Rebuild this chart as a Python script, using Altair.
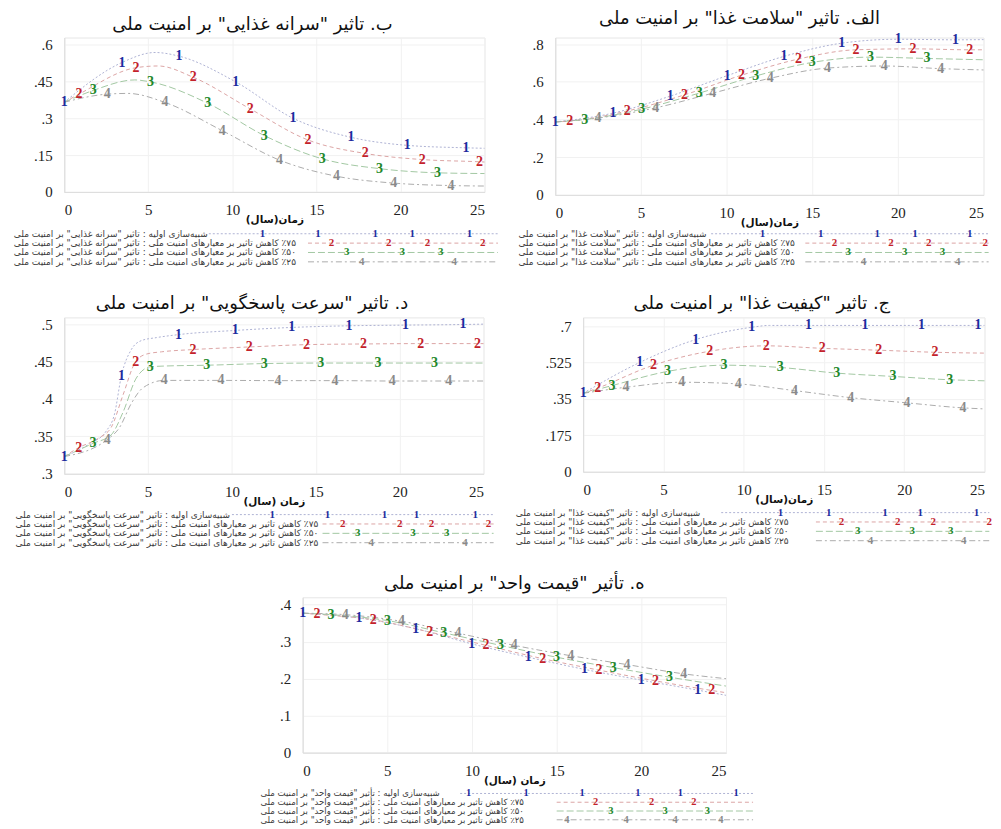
import altair as alt
import pandas as pd

SERIES = [1, 2, 3, 4]
MARK_COLORS = {1: '#1d2b9e', 2: '#c3222b', 3: '#22882a', 4: '#8a8a8a'}
LINE_COLORS = {1: '#aeb2d4', 2: '#dca4a4', 3: '#a2c8a2', 4: '#ababab'}
DASH_RANGE = [[2, 2], [4, 3], [7, 3], [6, 3, 2, 3]]
X_TICKS = [0, 5, 10, 15, 20, 25]
RLM = '\u200f'


def rtl(s):
    return RLM + s + RLM


def legend_texts(kw, verb='تاثیر'):
    return [
        f'شبیه‌سازی اولیه : {verb} "{kw}" بر امنیت ملی',
        f'٪۷۵ کاهش تاثیر بر معیارهای امنیت ملی : {verb} "{kw}" بر امنیت ملی',
        f'٪۵۰ کاهش تاثیر بر معیارهای امنیت ملی : {verb} "{kw}" بر امنیت ملی',
        f'٪۲۵ کاهش تاثیر بر معیارهای امنیت ملی : {verb} "{kw}" بر امنیت ملی',
    ]


# ---------------- panel ب : سرانه غذایی ----------------
B_TITLE = 'ب. تاثیر "سرانه غذایی" بر امنیت ملی'
B_KW = 'سرانه غذایی'
B_YTICKS = [0, 0.15, 0.3, 0.45, 0.6]
B_T = {1: [0, 3.43, 5.4, 6.83, 10.2, 13.6, 17.05, 20.4, 23.9, 25],
       2: [0, 0.88, 4.27, 5.6, 7.67, 11.06, 14.5, 17.9, 21.3, 24.7, 25],
       3: [0, 1.72, 4.2, 5.13, 8.53, 11.9, 15.35, 18.75, 22.2, 25],
       4: [0, 2.56, 3.8, 6.0, 9.4, 12.8, 16.2, 19.6, 23.0, 25]}
B_V = {1: [0.366, 0.528, 0.569, 0.554, 0.449, 0.301, 0.223, 0.19, 0.18, 0.178],
       2: [0.366, 0.399, 0.507, 0.514, 0.468, 0.339, 0.212, 0.157, 0.132, 0.123, 0.122],
       3: [0.366, 0.414, 0.457, 0.449, 0.362, 0.23, 0.135, 0.095, 0.078, 0.075],
       4: [0.366, 0.399, 0.402, 0.365, 0.25, 0.13, 0.064, 0.036, 0.026, 0.024]}
B_M = {1: [0, 3.43, 6.83, 10.2, 13.6, 17.05, 20.4, 23.9],
       2: [0.88, 4.27, 7.67, 11.06, 14.5, 17.9, 21.3, 24.7],
       3: [1.72, 5.13, 8.53, 11.9, 15.35, 18.75, 22.2],
       4: [2.56, 6.0, 9.4, 12.8, 16.2, 19.6, 23.0]}
B_LM = {1: [11.8, 15.1, 18.5, 20.7, 24.1], 2: [15.9, 19.3, 21.6, 24.9],
        3: [16.8, 20.1, 22.4], 4: [17.7, 23.2]}

# ---------------- panel الف : سلامت غذا ----------------
A_TITLE = 'الف. تاثیر "سلامت غذا" بر امنیت ملی'
A_KW = 'سلامت غذا'
A_YTICKS = [0, 0.2, 0.4, 0.6, 0.8]
A_T = {1: [0, 3.37, 6.71, 10.04, 13.35, 16.72, 20.03, 23.36, 25],
       2: [0, 0.85, 4.2, 7.55, 10.87, 14.2, 17.55, 20.88, 24.2, 25],
       3: [0, 1.72, 5.05, 8.4, 11.7, 15.0, 18.4, 21.7, 25],
       4: [0, 2.5, 5.86, 9.2, 12.55, 15.9, 19.2, 22.5, 25]}
A_V = {1: [0.387, 0.434, 0.524, 0.633, 0.735, 0.805, 0.826, 0.823, 0.824],
       2: [0.387, 0.392, 0.445, 0.531, 0.635, 0.721, 0.77, 0.775, 0.77, 0.77],
       3: [0.387, 0.40, 0.455, 0.54, 0.631, 0.703, 0.731, 0.724, 0.717],
       4: [0.387, 0.408, 0.462, 0.54, 0.619, 0.673, 0.684, 0.67, 0.663]}
A_M = {1: [0, 3.37, 6.71, 10.04, 13.35, 16.72, 20.03, 23.36],
       2: [0.85, 4.2, 7.55, 10.87, 14.2, 17.55, 20.88, 24.2],
       3: [1.72, 5.05, 8.4, 11.7, 15.0, 18.4, 21.7],
       4: [2.5, 5.86, 9.2, 12.55, 15.9, 19.2, 22.5]}
A_LM = {1: [12.1, 15.5, 18.8, 21.0, 24.2], 2: [16.3, 19.6, 21.8, 25.1],
        3: [17.1, 20.4, 22.6], 4: [18.0, 23.5]}

# ---------------- panel د : سرعت پاسخگویی ----------------
D_TITLE = 'د. تاثیر "سرعت پاسخگویی" بر امنیت ملی'
D_KW = 'سرعت پاسخگویی'
D_YTICKS = [0.3, 0.35, 0.4, 0.45, 0.5]
D_T = {1: [0, 1.5, 2.5, 3.0, 3.41, 4.0, 4.6, 5.5, 6.81, 10.2, 13.57, 16.98, 20.34, 23.77, 25],
       2: [0, 0.87, 2.0, 2.8, 3.5, 4.26, 4.9, 5.8, 7.67, 11.03, 14.44, 17.85, 21.26, 24.64, 25],
       3: [0, 1.72, 2.8, 3.5, 4.3, 5.13, 6.0, 8.5, 11.93, 15.29, 18.7, 22.07, 25],
       4: [0, 2.56, 3.3, 4.0, 4.7, 5.96, 9.35, 12.74, 16.15, 19.56, 22.92, 25]}
D_V = {1: [0.323, 0.34, 0.357, 0.38, 0.431, 0.466, 0.478, 0.482, 0.486, 0.4916, 0.4956, 0.4978, 0.4987, 0.4995, 0.5],
       2: [0.323, 0.335, 0.347, 0.362, 0.405, 0.45, 0.46, 0.463, 0.466, 0.4695, 0.4726, 0.4735, 0.474, 0.474, 0.474],
       3: [0.323, 0.3407, 0.352, 0.382, 0.428, 0.443, 0.444, 0.4451, 0.4473, 0.448, 0.448, 0.448, 0.448],
       4: [0.323, 0.3456, 0.362, 0.394, 0.415, 0.4248, 0.4248, 0.4245, 0.4245, 0.424, 0.424, 0.424]}
D_M = {1: [0, 3.41, 6.81, 10.2, 13.57, 16.98, 20.34, 23.77],
       2: [0.87, 4.26, 7.67, 11.03, 14.44, 17.85, 21.26, 24.64],
       3: [1.72, 5.13, 8.5, 11.93, 15.29, 18.7, 22.07],
       4: [2.56, 5.96, 9.35, 12.74, 16.15, 19.56, 22.92]}
D_LM = {1: [12.4, 15.7, 19.1, 21.0, 24.5], 2: [16.6, 20.0, 21.9, 25.3],
        3: [17.5, 20.8, 22.8], 4: [18.3, 23.9]}

# ---------------- panel ج : کیفیت غذا ----------------
J_TITLE = 'ج. تاثیر "کیفیت غذا" بر امنیت ملی'
J_KW = 'کیفیت غذا'
J_YTICKS = [0, 0.175, 0.35, 0.525, 0.7]
J_T = {1: [0, 3.52, 7.01, 10.5, 11.6, 14.04, 17.56, 21.07, 24.6, 25],
       2: [0, 0.91, 4.38, 7.88, 11.4, 14.9, 18.42, 21.92, 25],
       3: [0, 1.8, 5.25, 8.77, 12.28, 15.8, 19.3, 22.83, 25],
       4: [0, 2.67, 6.14, 9.66, 13.17, 16.67, 20.18, 23.66, 25]}
J_V = {1: [0.377, 0.525, 0.635, 0.694, 0.703, 0.703, 0.703, 0.703, 0.703, 0.703],
       2: [0.377, 0.402, 0.512, 0.579, 0.605, 0.593, 0.584, 0.574, 0.570],
       3: [0.377, 0.414, 0.482, 0.512, 0.501, 0.474, 0.458, 0.442, 0.437],
       4: [0.377, 0.406, 0.43, 0.422, 0.39, 0.356, 0.331, 0.307, 0.302]}
J_M = {1: [0, 3.52, 7.01, 10.5, 14.04, 17.56, 21.07, 24.6],
       2: [0.91, 4.38, 7.88, 11.4, 14.9, 18.42, 21.92],
       3: [1.8, 5.25, 8.77, 12.28, 15.8, 19.3, 22.83],
       4: [2.67, 6.14, 9.66, 13.17, 16.67, 20.18, 23.66]}
J_LM = {1: [12.3, 15.3, 18.8, 21.0, 24.5], 2: [16.1, 19.6, 21.8, 25.3],
        3: [17.1, 20.5, 22.9], 4: [17.9, 23.7]}

# ---------------- panel ه : قیمت واحد ----------------
H_TITLE = 'ه. تأثیر "قیمت واحد" بر امنیت ملی'
H_KW = 'قیمت واحد'
H_YTICKS = [0, 0.1, 0.2, 0.3, 0.4]
H_T = {1: [0, 3.33, 6.67, 9.99, 13.32, 16.65, 20.0, 23.33, 25],
       2: [0, 0.84, 4.17, 7.5, 10.83, 14.17, 17.5, 20.83, 24.16, 25],
       3: [0, 1.67, 5.0, 8.33, 11.68, 14.99, 18.34, 21.67, 25],
       4: [0, 2.51, 5.84, 9.17, 12.5, 15.83, 19.16, 22.5, 25]}
H_V = {1: [0.377, 0.364, 0.335, 0.294, 0.258, 0.225, 0.196, 0.169, 0.155],
       2: [0.377, 0.374, 0.359, 0.326, 0.29, 0.254, 0.223, 0.194, 0.168, 0.162],
       3: [0.377, 0.373, 0.357, 0.324, 0.29, 0.258, 0.23, 0.204, 0.18],
       4: [0.377, 0.373, 0.355, 0.323, 0.29, 0.262, 0.238, 0.213, 0.2]}
H_M = {1: [0, 3.33, 6.67, 9.99, 13.32, 16.65, 20.0, 23.33],
       2: [0.84, 4.17, 7.5, 10.83, 14.17, 17.5, 20.83, 24.16],
       3: [1.67, 5.0, 8.33, 11.68, 14.99, 18.34, 21.67],
       4: [2.51, 5.84, 9.17, 12.5, 15.83, 19.16, 22.5]}
H_LM = {1: [9.8, 13.2, 16.5, 19.8, 22.3, 25.6], 2: [17.3, 20.6, 23.1],
        3: [18.2, 21.4, 23.9], 4: [15.6, 19.1, 22.0, 24.7]}

LABEL_EXPR = "datum.value == 0 ? '0' : replace(format(datum.value, '.3~f'), '0.', '.')"
DASH_SCALE = alt.Scale(domain=SERIES, range=DASH_RANGE)


def panel(title, xtitle, T, V, M, LM, texts, ydom, yticks, w, h,
          leg_left, row1_start, line_start, leg_end, leg_off,
          leg_sp=9.4, leg_fs=9, leg_mfs=11, title_dx=-22):
    xs = alt.Scale(domain=[0, 25], nice=False, zero=False)
    ys = alt.Scale(domain=ydom, nice=False, zero=False)
    x_axis = alt.Axis(values=X_TICKS, title=rtl(xtitle), titleFont='DejaVu Sans',
                      titleFontSize=10.5, titleFontWeight='bold', titlePadding=-3,
                      titleColor='#111', labelPadding=11, format='d')
    y_axis = alt.Axis(values=yticks, labelExpr=LABEL_EXPR, title=None, labelPadding=12)

    line_rows = []
    for s in SERIES:
        for t, v in zip(T[s], V[s]):
            line_rows.append({'t': t, 'v': v, 's': s, 'lc': LINE_COLORS[s]})
    mark_rows = []
    for s in SERIES:
        for t in M[s]:
            v = V[s][T[s].index(t)]
            mark_rows.append({'t': t, 'v': v, 's': s, 'lab': str(s), 'mc': MARK_COLORS[s]})

    X = alt.X('t:Q', scale=xs, axis=x_axis)
    Y = alt.Y('v:Q', scale=ys, axis=y_axis)

    lines = alt.Chart(pd.DataFrame(line_rows)).mark_line(
        interpolate='monotone', strokeWidth=1).encode(
        x=X, y=Y,
        color=alt.Color('lc:N', scale=None),
        strokeDash=alt.StrokeDash('s:N', scale=DASH_SCALE, legend=None),
        detail='s:N')
    marks = alt.Chart(pd.DataFrame(mark_rows)).mark_text(
        font='Liberation Serif', fontSize=14, fontWeight='bold').encode(
        x=X, y=Y, text='lab:N', color=alt.Color('mc:N', scale=None))
    main = alt.layer(lines, marks)

    # legend block (below the x axis)
    ly = alt.Y('row:Q', scale=alt.Scale(domain=[1, 4], range=[h + leg_off, h + leg_off + 3 * leg_sp],
                                        nice=False, zero=False), axis=None)
    txt_rows = [{'lx': leg_left, 'row': i + 1, 'txt': rtl(tx)} for i, tx in enumerate(texts)]
    seg_rows = []
    for s in SERIES:
        seg_rows.append({'x0': row1_start if s == 1 else line_start, 'x1': leg_end,
                         'row': s, 's': s, 'lc': LINE_COLORS[s]})
    lm_rows = []
    for s in SERIES:
        for x in LM[s]:
            lm_rows.append({'lx': x, 'row': s, 'lab': str(s), 'mc': MARK_COLORS[s]})

    ltxt = alt.Chart(pd.DataFrame(txt_rows)).mark_text(
        align='left', baseline='middle', font='DejaVu Sans', fontSize=leg_fs, color='#3a3a3a').encode(
        x=alt.X('lx:Q', scale=xs, axis=x_axis), y=ly, text='txt:N')
    lseg = alt.Chart(pd.DataFrame(seg_rows)).mark_rule(strokeWidth=1).encode(
        x=alt.X('x0:Q', scale=xs, axis=x_axis), x2='x1:Q', y=ly,
        color=alt.Color('lc:N', scale=None),
        strokeDash=alt.StrokeDash('s:N', scale=DASH_SCALE, legend=None))
    lmk = alt.Chart(pd.DataFrame(lm_rows)).mark_text(
        font='Liberation Serif', fontSize=leg_mfs, fontWeight='bold', baseline='middle').encode(
        x=alt.X('lx:Q', scale=xs, axis=x_axis), y=ly, text='lab:N',
        color=alt.Color('mc:N', scale=None))
    legend = alt.layer(lseg, ltxt, lmk)

    return alt.layer(main, legend).resolve_scale(y='independent').properties(
        width=w, height=h,
        title=alt.TitleParams(text=rtl(title), font='DejaVu Sans', fontSize=18,
                              fontWeight='normal', color='#111', offset=4, anchor='middle',
                              dx=title_dx))


pB = panel(B_TITLE, 'زمان(سال)', B_T, B_V, B_M, B_LM, legend_texts(B_KW),
           [0, 0.63], B_YTICKS, 422, 155, -3.0, 8.6, 14.5, 25.8, 42)
pA = panel(A_TITLE, 'زمان(سال)', A_T, A_V, A_M, A_LM, legend_texts(A_KW),
           [0, 0.835], A_YTICKS, 430, 158, -2.15, 9.1, 14.6, 25.3, 39, title_dx=-30)
pD = panel(D_TITLE, 'زمان (سال)', D_T, D_V, D_M, D_LM, legend_texts(D_KW),
           [0.3, 0.509], D_YTICKS, 421, 157, -2.9, 10.0, 15.4, 25.6, 41)
pJ = panel(J_TITLE, 'زمان(سال)', J_T, J_V, J_M, J_LM, legend_texts(J_KW),
           [0, 0.7415], J_YTICKS, 403, 155, -4.2, 8.6, 14.5, 25.3, 41)
pH = panel(H_TITLE, 'زمان (سال)', H_T, H_V, H_M, H_LM, legend_texts(H_KW, 'تأثیر'),
           [0, 0.42], H_YTICKS, 425, 156, -2.5, 9.3, 15.0, 26.6, 41,
           leg_sp=8.8, leg_fs=8.6, leg_mfs=10.5, title_dx=0)

row1 = alt.hconcat(pB, pA, spacing=18)
row2 = alt.hconcat(pD, pJ, spacing=19)
top = alt.vconcat(row1, row2, spacing=27)

chart = alt.vconcat(top, pH, spacing=26, center=True).configure_view(
    stroke='#e6e6e6').configure_axis(
    labelFont='Liberation Serif', labelFontSize=15, labelColor='#222',
    ticks=False, domainColor='#dcdcdc', gridColor='#f1f1f1', grid=True
).properties(background='white', padding={'top': 0, 'left': 5, 'right': 0, 'bottom': 0})

chart.save("out.html", embed_options={"renderer": "svg", "actions": False})
